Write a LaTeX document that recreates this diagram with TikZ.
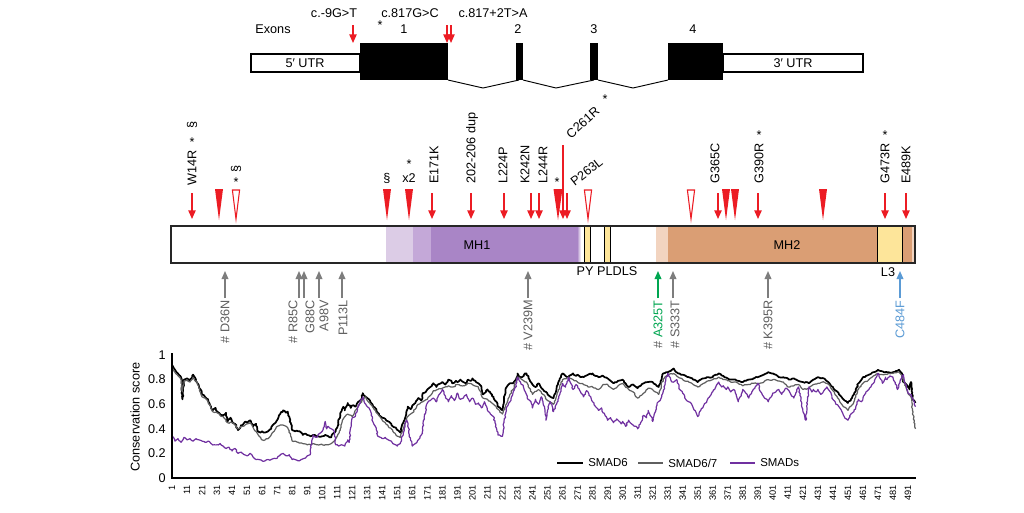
\documentclass[tikz,border=0pt]{standalone}
\usepackage{fontspec}
\setmainfont{Liberation Sans}
\usetikzlibrary{arrows.meta,decorations.pathmorphing}
\definecolor{mred}{RGB}{236,28,36}
\definecolor{agray}{RGB}{125,125,125}
\definecolor{lgray}{RGB}{95,95,95}
\definecolor{mgreen}{RGB}{0,166,81}
\definecolor{mblue}{RGB}{91,155,213}
\definecolor{mhA}{RGB}{220,204,230}
\definecolor{mhB}{RGB}{196,168,216}
\definecolor{mhC}{RGB}{169,133,198}
\definecolor{orA}{RGB}{242,212,192}
\definecolor{orB}{RGB}{218,158,116}
\definecolor{yel}{RGB}{253,229,154}
\definecolor{spurple}{RGB}{112,48,160}
\definecolor{sgray}{RGB}{95,95,95}
\begin{document}
\begin{tikzpicture}[x=0.75pt,y=-0.75pt,
  every node/.style={inner sep=0pt, font=\fontsize{9.5}{11}\selectfont},
  redarr/.style={draw=mred, line width=1.1pt, -{Triangle[length=6.5pt,width=5.5pt]}},
  grayarr/.style={draw=agray, line width=1pt, -{Triangle[length=6pt,width=5pt]}},
  toplab/.style={rotate=90, anchor=west},
  botlab/.style={rotate=90, anchor=east, text=lgray},
  ticklab/.style={rotate=90, anchor=east, font=\fontsize{6.9}{8}\selectfont},
  leglab/.style={anchor=west, font=\fontsize{8.6}{10}\selectfont},
  curve/.style={line join=round, decorate, decoration={random steps, segment length=1.3pt, amplitude=0.5pt}},
]
\pgfmathsetseed{11}
\path[use as bounding box, fill=white] (0,0) rectangle (1024,512);

% ---------- gene structure ----------
\draw[line width=0.8pt, fill=white] (251,54) rectangle (360,72);
\draw[line width=0.8pt, fill=white] (723,54) rectangle (863,72);
\fill (360,43) rectangle (448,80);
\fill (516,43) rectangle (523,80);
\fill (590,43) rectangle (598,80);
\fill (668,43) rectangle (723,80);
\draw[line width=0.7pt] (448,80) -- (483,88) -- (519,80);
\draw[line width=0.7pt] (523,80) -- (556,88) -- (594,80);
\draw[line width=0.7pt] (598,80) -- (633,88) -- (668,80);
\node (utr5) at (305,63) {5{\char"2032} UTR};
\node (utr3) at (793,63) {3{\char"2032} UTR};
\node (exons) at (273,29) {Exons};
\node (ex1) at (404,29) {1};
\node (ex2) at (518,29) {2};
\node (ex3) at (594,29) {3};
\node (ex4) at (693,29) {4};
\node (exstar) at (380,25) {*};
\node (c9) at (334,13) {c.-9G>T};
\node (c817) at (410,13) {c.817G>C};
\node (c8172) at (493,13) {c.817+2T>A};
\coordinate (ga1) at (353,25); \coordinate (gb1) at (353,43);
\coordinate (ga2) at (447,25); \coordinate (gb2) at (447,43);
\coordinate (ga3) at (451,25); \coordinate (gb3) at (451,43);
\draw[redarr] (ga1) -- (gb1);
\draw[redarr] (ga2) -- (gb2);
\draw[redarr] (ga3) -- (gb3);

% ---------- protein bar ----------
\fill[white] (171,226) rectangle (915,263);
\fill[mhA] (386,226) rectangle (413,263);
\fill[mhB] (413,226) rectangle (431,263);
\fill[mhC] (431,226) rectangle (577,263);
\shade[left color=mhC, right color=white] (577,226) rectangle (581,263);
\draw[line width=0.6pt, fill=yel] (584,226) rectangle (590,263);
\draw[line width=0.6pt, fill=yel] (604,226) rectangle (610,263);
\fill[orA] (656,226) rectangle (668,263);
\fill[orB] (668,226) rectangle (915,263);
\draw[line width=0.6pt, fill=yel] (877,226) rectangle (902,263);
\fill[orA] (912,226) rectangle (915,263);
\draw[line width=0.8pt, black!85] (171,226) rectangle (915,263);
\node (mh1) at (477,245) {MH1};
\node (mh2) at (787,245) {MH2};
\node (pyl) at (607,271) {PY PLDLS};
\node (l3) at (888,272) {L3};

% ---------- mutations above ----------
\foreach \x/\n in {192/a,432/b,471/c,504/d,531/e,539/f,567/g,718/h,758/i,885/j,906/k}{
  \coordinate (ta\n) at (\x,193); \coordinate (tb\n) at (\x,219);
  \draw[redarr] (ta\n) -- (tb\n);
}
\coordinate (tal) at (563,145); \coordinate (tbl) at (563,219);
\draw[redarr] (tal) -- (tbl);
\foreach \x in {219,387,409,726,735,823}{
  \fill[mred] ({\x-4},189) -- ({\x+4},189) -- (\x,220) -- cycle;
}
\fill[mred] (553.5,189) -- (562.5,189) -- (558,220) -- cycle;
\foreach \x in {236,588,691}{
  \draw[mred, fill=white, line width=0.8pt] ({\x-3.6},190) -- ({\x+3.6},190) -- (\x,219) -- cycle;
}
\node[toplab] (lw14r) at (192,186) {W14R};
\node (sw14r) at (192,142) {*};
\node[rotate=90] (pw14r) at (192,125) {\S};
\node (s236) at (236,182) {*};
\node[rotate=90] (p236) at (236,169) {\S};
\node (p387) at (387,178) {\S};
\node (x2) at (409,178) {x2};
\node (sx2) at (409,164) {*};
\node[toplab] (le171k) at (434,184) {E171K};
\node[toplab] (ldup) at (472,184) {202-206 dup};
\node[toplab] (ll224p) at (503,184) {L224P};
\node[toplab] (lk242n) at (525,184) {K242N};
\node[toplab] (ll244r) at (543,184) {L244R};
\node (s557) at (557,182) {*};
\node[rotate=42, anchor=west] (lc261r) at (568,136) {C261R};
\node (sc261r) at (605,99) {*};
\node[rotate=38, anchor=west] (lp263l) at (572,183) {P263L};
\node[toplab] (lg365c) at (715,184) {G365C};
\node[toplab] (lg390r) at (759,184) {G390R};
\node (sg390r) at (759,135) {*};
\node[toplab] (lg473r) at (885,184) {G473R};
\node (sg473r) at (885,135) {*};
\node[toplab] (le489k) at (906,184) {E489K};

% ---------- variants below ----------
\foreach \x/\n in {225/a,299/b,304/c,319/d,342/e,528/f,673/g,768/h}{
  \coordinate (ba\n) at (\x,298); \coordinate (bb\n) at (\x,271);
  \draw[grayarr] (ba\n) -- (bb\n);
}
\coordinate (bag) at (658,298); \coordinate (bbg) at (658,271);
\draw[grayarr, draw=mgreen] (bag) -- (bbg);
\coordinate (bab) at (900,298); \coordinate (bbb) at (900,271);
\draw[grayarr, draw=mblue] (bab) -- (bbb);
\node[botlab] (ld36n) at (225,300) {\# D36N};
\node[botlab] (lr85c) at (293,300) {\# R85C};
\node[botlab] (lg88c) at (310,300) {G88C};
\node[botlab] (la98v) at (324,300) {A98V};
\node[botlab] (lp113l) at (343,300) {P113L};
\node[botlab] (lv239m) at (528,300) {\# V239M};
\node[botlab, text=mgreen] (la325t) at (658,300) {{\color{lgray}\#} A325T};
\node[botlab] (ls333t) at (675,300) {\# S333T};
\node[botlab] (lk395r) at (768,300) {\# K395R};
\node[botlab, text=mblue] (lc484f) at (900,300) {C484F};

% ---------- conservation plot ----------
\node[rotate=90] (ylab) at (135,417) {Conservation score};
\foreach \v/\t in {0/0,0.2/0.2,0.4/0.4,0.6/0.6,0.8/0.8,1/1}{
  \node[anchor=east] (yt\t) at (166,{478-\v*123}) {\t};
}
\foreach \r in {1,11,...,491}{
  \node[ticklab] (xt\r) at ({172+(\r-1)*1.502},485) {\r};
}
\begin{scope}[shift={(170.5,478)}, x=1.1265pt, y=92.25pt]
\draw[curve, line width=1.3pt, black] plot coordinates {
(1,.92) (3,.88) (5,.85) (7,.82) (8,.64) (9,.80) (11,.81) (13,.79) (15,.84) (18,.77) (20,.72) (21,.68) (23,.66) (25,.64) (27,.58) (28,.55) (30,.57) (31,.54) (33,.52) (35,.51) (37,.53) (38,.46) (40,.49) (41,.46) (43,.44) (45,.39) (47,.43) (48,.43) (50,.46) (51,.45) (53,.47) (55,.42) (57,.44) (58,.38) (60,.37) (61,.38) (63,.37) (65,.38) (67,.40) (68,.43) (70,.45) (71,.47) (73,.52) (75,.55) (77,.53) (78,.54) (80,.45) (81,.39) (83,.38) (85,.38) (87,.37) (88,.35) (90,.36) (91,.35) (93,.34) (95,.35) (98,.34) (101,.34) (103,.35) (105,.34) (107,.33) (108,.36) (110,.38) (111,.41) (113,.52) (115,.58) (116,.55) (118,.61) (120,.57) (121,.59) (123,.58) (125,.62) (127,.64) (128,.69) (130,.66) (131,.65) (133,.62) (135,.58) (137,.56) (138,.53) (140,.50) (141,.49) (143,.48) (145,.46) (147,.44) (148,.42) (150,.41) (151,.39) (153,.37) (155,.45) (157,.52) (158,.58) (160,.56) (161,.59) (163,.61) (165,.65) (167,.63) (168,.69) (170,.70) (171,.72) (173,.74) (175,.77) (177,.74) (178,.76) (180,.77) (181,.78) (183,.76) (185,.80) (187,.79) (188,.77) (190,.79) (191,.78) (193,.80) (195,.78) (197,.76) (198,.80) (200,.79) (201,.81) (203,.79) (205,.77) (207,.74) (208,.68) (210,.70) (211,.72) (213,.69) (215,.66) (217,.62) (218,.58) (220,.56) (221,.55) (222,.62) (223,.72) (225,.76) (226,.77) (228,.77) (230,.80) (231,.85) (233,.82) (234,.82) (236,.85) (237,.85) (239,.80) (241,.76) (243,.74) (245,.77) (247,.73) (248,.72) (250,.70) (251,.68) (253,.66) (255,.65) (257,.72) (258,.77) (260,.82) (261,.85) (263,.83) (265,.82) (267,.84) (268,.85) (270,.83) (271,.84) (273,.82) (275,.82) (278,.84) (281,.85) (283,.83) (285,.82) (288,.83) (291,.81) (293,.79) (295,.77) (298,.79) (301,.80) (303,.77) (305,.74) (308,.76) (311,.73) (313,.75) (315,.77) (318,.78) (321,.78) (323,.76) (325,.74) (327,.80) (328,.85) (331,.86) (333,.87) (335,.89) (338,.85) (341,.84) (343,.83) (345,.82) (348,.80) (351,.78) (353,.80) (355,.81) (358,.82) (361,.82) (363,.84) (365,.85) (368,.83) (371,.81) (373,.80) (375,.80) (378,.79) (381,.78) (383,.79) (385,.80) (388,.81) (391,.82) (393,.83) (395,.84) (398,.86) (401,.85) (403,.84) (405,.82) (408,.82) (411,.81) (413,.80) (415,.81) (418,.79) (421,.78) (423,.78) (425,.77) (428,.80) (431,.82) (433,.81) (435,.81) (438,.78) (441,.74) (443,.71) (445,.68) (448,.64) (451,.61) (453,.64) (455,.68) (458,.77) (461,.82) (463,.83) (465,.84) (468,.86) (471,.88) (473,.87) (475,.86) (478,.86) (481,.86) (483,.87) (485,.88) (487,.85) (488,.78) (490,.76) (491,.74) (492,.72) (493,.78) (494,.65) (496,.61)};
\draw[curve, line width=0.9pt, sgray] plot coordinates {
(1,.90) (3,.86) (5,.83) (7,.80) (8,.70) (9,.79) (11,.80) (13,.78) (15,.82) (18,.76) (21,.66) (23,.65) (25,.62) (28,.54) (31,.53) (33,.51) (35,.50) (38,.45) (41,.45) (43,.43) (45,.40) (48,.42) (51,.44) (53,.45) (55,.41) (58,.36) (60,.33) (61,.31) (63,.31) (65,.32) (67,.35) (68,.37) (70,.40) (71,.42) (73,.43) (75,.43) (77,.42) (78,.41) (80,.34) (81,.30) (83,.30) (85,.29) (88,.28) (91,.27) (95,.28) (98,.27) (101,.27) (105,.27) (108,.29) (111,.34) (113,.40) (115,.48) (118,.52) (121,.50) (123,.55) (125,.58) (128,.64) (130,.66) (131,.63) (133,.60) (135,.57) (138,.52) (141,.47) (143,.45) (145,.42) (148,.38) (151,.34) (153,.33) (155,.40) (158,.50) (161,.53) (163,.56) (165,.60) (168,.62) (171,.64) (173,.67) (175,.71) (178,.72) (181,.73) (185,.75) (188,.74) (191,.76) (195,.75) (198,.77) (201,.76) (205,.74) (208,.65) (211,.64) (215,.60) (218,.56) (221,.52) (223,.58) (226,.68) (228,.72) (231,.82) (234,.80) (237,.78) (241,.68) (245,.72) (248,.68) (251,.63) (255,.60) (258,.70) (261,.80) (265,.82) (268,.80) (271,.78) (275,.76) (278,.74) (281,.74) (285,.72) (288,.76) (291,.76) (295,.72) (298,.75) (301,.77) (305,.72) (308,.70) (311,.65) (315,.69) (318,.73) (321,.72) (325,.68) (328,.80) (331,.84) (335,.85) (338,.82) (341,.80) (345,.78) (348,.76) (351,.74) (355,.77) (358,.79) (361,.80) (365,.82) (368,.80) (371,.79) (375,.78) (378,.77) (381,.75) (385,.76) (388,.77) (391,.77) (395,.78) (398,.80) (401,.80) (405,.79) (408,.78) (411,.74) (415,.75) (418,.76) (421,.72) (425,.73) (428,.76) (431,.77) (435,.78) (438,.76) (441,.71) (445,.64) (448,.58) (451,.55) (455,.62) (458,.72) (461,.77) (465,.80) (468,.83) (471,.85) (475,.84) (478,.85) (481,.85) (485,.86) (488,.80) (491,.69) (493,.66) (494,.55) (496,.40)};
\draw[curve, line width=0.9pt, spurple] plot coordinates {
(1,.34) (2,.33) (3,.30) (5,.32) (7,.29) (9,.33) (11,.31) (13,.32) (15,.30) (17,.32) (19,.31) (21,.30) (23,.29) (25,.30) (27,.28) (29,.27) (31,.27) (33,.28) (35,.26) (37,.24) (39,.25) (41,.22) (43,.24) (45,.20) (47,.21) (49,.19) (51,.18) (53,.20) (55,.17) (57,.15) (59,.15) (61,.14) (63,.14) (65,.15) (67,.15) (69,.16) (71,.16) (73,.19) (75,.20) (77,.18) (79,.19) (81,.15) (83,.15) (85,.14) (87,.15) (89,.16) (91,.18) (93,.19) (94,.30) (95,.35) (97,.33) (99,.36) (101,.38) (103,.46) (104,.40) (105,.42) (107,.40) (109,.38) (110,.27) (112,.26) (114,.27) (116,.26) (118,.31) (119,.29) (121,.49) (123,.50) (125,.58) (127,.64) (128,.66) (130,.60) (131,.58) (133,.55) (135,.45) (137,.40) (138,.34) (140,.33) (141,.32) (143,.33) (145,.31) (147,.30) (148,.28) (150,.27) (151,.26) (153,.28) (155,.36) (157,.47) (158,.45) (159,.35) (161,.26) (163,.28) (165,.31) (167,.35) (168,.39) (169,.50) (171,.61) (173,.63) (175,.65) (177,.62) (179,.68) (181,.72) (183,.66) (185,.62) (187,.67) (189,.63) (191,.69) (193,.64) (195,.65) (197,.68) (199,.62) (201,.65) (203,.60) (205,.61) (207,.57) (209,.62) (211,.55) (213,.52) (215,.50) (216,.45) (218,.35) (220,.34) (221,.34) (222,.45) (224,.58) (226,.62) (228,.69) (230,.75) (231,.82) (233,.78) (235,.74) (237,.68) (238,.64) (240,.62) (241,.57) (243,.64) (245,.60) (247,.66) (249,.58) (250,.47) (251,.55) (253,.62) (255,.54) (257,.60) (258,.64) (260,.72) (261,.77) (263,.74) (265,.82) (267,.76) (268,.72) (270,.76) (271,.75) (273,.70) (275,.66) (277,.71) (278,.70) (280,.65) (281,.62) (283,.58) (285,.55) (287,.57) (288,.53) (290,.50) (291,.47) (293,.49) (295,.45) (297,.48) (298,.47) (300,.44) (301,.46) (303,.42) (305,.47) (307,.44) (308,.43) (310,.42) (311,.40) (313,.45) (315,.51) (317,.49) (318,.55) (320,.50) (321,.46) (323,.55) (324,.61) (326,.63) (327,.66) (329,.75) (331,.85) (333,.80) (334,.78) (336,.79) (337,.80) (339,.72) (341,.69) (343,.64) (345,.62) (347,.60) (348,.57) (350,.53) (351,.50) (353,.55) (355,.59) (357,.62) (358,.65) (360,.68) (361,.70) (363,.74) (365,.78) (367,.74) (368,.75) (370,.72) (371,.74) (373,.70) (375,.72) (377,.66) (378,.62) (380,.68) (381,.72) (383,.69) (385,.65) (387,.70) (388,.72) (390,.75) (391,.77) (393,.70) (395,.66) (397,.64) (398,.62) (400,.66) (401,.69) (403,.70) (405,.72) (407,.68) (408,.70) (410,.73) (411,.72) (413,.68) (415,.65) (417,.72) (418,.74) (420,.62) (421,.55) (423,.47) (424,.62) (425,.74) (427,.70) (428,.72) (430,.70) (431,.72) (433,.68) (435,.71) (437,.74) (438,.72) (440,.68) (441,.64) (443,.60) (445,.58) (447,.54) (448,.51) (450,.48) (451,.47) (453,.52) (455,.54) (457,.60) (458,.64) (460,.62) (461,.65) (463,.70) (465,.72) (467,.76) (468,.77) (470,.82) (471,.85) (473,.80) (474,.77) (476,.82) (477,.80) (479,.83) (481,.82) (483,.76) (484,.72) (486,.80) (488,.84) (490,.74) (491,.69) (493,.68) (494,.65) (496,.58)};
\end{scope}
\draw[line width=1.6pt] (172,353) -- (172,478) -- (916,478);

% legend
\coordinate (l1a) at (557,463); \coordinate (l1b) at (583,463);
\draw[line width=1.8pt] (l1a) -- (l1b);
\node[leglab] (leg1) at (588,463) {SMAD6};
\coordinate (l2a) at (638,463); \coordinate (l2b) at (663,463);
\draw[line width=1.1pt, sgray] (l2a) -- (l2b);
\node[leglab] (leg2) at (668,463) {SMAD6/7};
\coordinate (l3a) at (730,463); \coordinate (l3b) at (755,463);
\draw[line width=1.1pt, spurple] (l3a) -- (l3b);
\node[leglab] (leg3) at (760,463) {SMADs};
\end{tikzpicture}
\end{document}
